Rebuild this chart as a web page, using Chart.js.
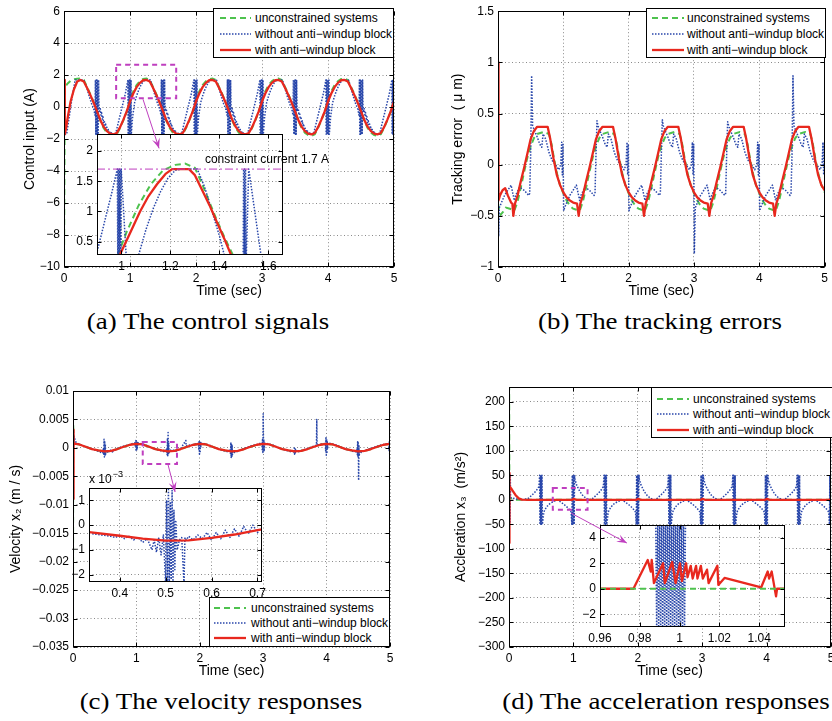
<!DOCTYPE html>
<html><head><meta charset="utf-8">
<script src="https://cdn.jsdelivr.net/npm/chart.js@4.4.1/dist/chart.umd.min.js"></script>
<style>
html,body{margin:0;padding:0;background:#fff;}
#fig{position:relative;width:832px;height:721px;overflow:hidden;background:#fff;}
#fig canvas{position:absolute;}
.legend{position:absolute;background:#fff;border:1px solid #000;box-sizing:border-box;font:12px 'Liberation Sans',Arial,sans-serif;color:#000;}
.legend svg{position:absolute;}
.legend span{position:absolute;white-space:nowrap;line-height:14px;}
.cap{position:absolute;width:440px;text-align:center;font-family:'Liberation Serif',serif;font-size:23px;line-height:26px;color:#000;white-space:nowrap;transform:scaleX(1.17);transform-origin:center;}
</style></head><body><div id="fig"></div>
<script>
// ======================= DATA =======================
const legendLabels=['unconstrained systems','without anti\u2212windup block','with anti\u2212windup block'];
const captions=['(a) The control signals','(b) The tracking errors','(c) The velocity responses','(d) The acceleration responses'];
const xTicksMain=[0,1,2,3,4,5];

// ---------- (a) control input ----------
const yTicksA=[-10,-8,-6,-4,-2,0,2,4,6];
const tA=[0,0.012,0.03,0.06,0.1,0.15,0.2,0.25,0.3,0.35,0.4,0.45,0.5,0.55,0.6,0.65,0.7,0.75,0.8,0.85,0.9,0.95,
1,1.05,1.1,1.15,1.2,1.25,1.3,1.35,1.4,1.45,1.5,1.55,1.6,1.65,1.7,1.75,1.8,1.85,1.9,1.95,
2,2.05,2.1,2.15,2.2,2.25,2.3,2.35,2.4,2.45,2.5,2.55,2.6,2.65,2.7,2.75,2.8,2.85,2.9,2.95,
3,3.05,3.1,3.15,3.2,3.25,3.3,3.35,3.4,3.45,3.5,3.55,3.6,3.65,3.7,3.75,3.8,3.85,3.9,3.95,
4,4.05,4.1,4.15,4.2,4.25,4.3,4.35,4.4,4.45,4.5,4.55,4.6,4.65,4.7,4.75,4.8,4.85,4.9,4.95,5];
const redA=[1.7,-1.7,-1.35,-0.55,0.35,1.1,1.6,1.7,1.6,1.2,0.75,0.27,-0.25,-0.8,-1.22,-1.5,-1.66,-1.7,-1.62,-1.25,-0.78,-0.27,
0.35,0.85,1.25,1.52,1.68,1.7,1.6,1.2,0.75,0.27,-0.25,-0.8,-1.22,-1.5,-1.66,-1.7,-1.62,-1.25,-0.78,-0.27,
0.35,0.85,1.25,1.52,1.68,1.7,1.6,1.2,0.75,0.27,-0.25,-0.8,-1.22,-1.5,-1.66,-1.7,-1.62,-1.25,-0.78,-0.27,
0.35,0.85,1.25,1.52,1.68,1.7,1.6,1.2,0.75,0.27,-0.25,-0.8,-1.22,-1.5,-1.66,-1.7,-1.62,-1.25,-0.78,-0.27,
0.35,0.85,1.25,1.52,1.68,1.7,1.6,1.2,0.75,0.27,-0.25,-0.8,-1.22,-1.5,-1.66,-1.7,-1.62,-1.25,-0.78,-0.27,0.35];
const greenA=[-10.5,1.1,1.35,1.5,1.65,1.74,1.78,1.79,1.7,1.25,0.8,0.3,-0.25,-0.85,-1.3,-1.6,-1.75,-1.79,-1.7,-1.3,-0.82,-0.3,
0.45,0.98,1.38,1.62,1.76,1.79,1.7,1.25,0.8,0.3,-0.25,-0.85,-1.3,-1.6,-1.75,-1.79,-1.7,-1.3,-0.82,-0.3,
0.45,0.98,1.38,1.62,1.76,1.79,1.7,1.25,0.8,0.3,-0.25,-0.85,-1.3,-1.6,-1.75,-1.79,-1.7,-1.3,-0.82,-0.3,
0.45,0.98,1.38,1.62,1.76,1.79,1.7,1.25,0.8,0.3,-0.25,-0.85,-1.3,-1.6,-1.75,-1.79,-1.7,-1.3,-0.82,-0.3,
0.45,0.98,1.38,1.62,1.76,1.79,1.7,1.25,0.8,0.3,-0.25,-0.85,-1.3,-1.6,-1.75,-1.79,-1.7,-1.3,-0.82,-0.3,0.45];
const blueAt=[0,0.015,0.04,0.09,0.13,0.17,0.3,0.34,0.37,0.4,0.42,0.45,0.47,
0.476,0.482,0.488,0.494,0.5,0.506,0.512,0.518,0.524,0.53,0.54,0.55,0.56,0.57,0.58,0.59,0.6,0.61,0.62,0.63,0.64,0.65,0.66,0.67,0.68,0.69,0.7,0.72,0.74,0.78,0.83,0.88,0.93,0.968,0.972,0.978,0.984,0.99,0.996,1.002,1.008,1.014,1.02,1.04,1.07,1.1,1.13,1.16,1.19,1.22,1.25,1.31,1.34,1.37,1.4,1.42,1.45,1.47,
1.476,1.482,1.488,1.494,1.5,1.506,1.512,1.518,1.524,1.53,1.54,1.55,1.56,1.57,1.58,1.59,1.6,1.61,1.62,1.63,1.64,1.65,1.66,1.67,1.68,1.69,1.7,1.72,1.74,1.78,1.83,1.88,1.93,1.968,1.972,1.978,1.984,1.99,1.996,2.002,2.008,2.014,2.02,2.04,2.07,2.1,2.13,2.16,2.19,2.22,2.25,2.31,2.34,2.37,2.4,2.42,2.45,2.47,
2.476,2.482,2.488,2.494,2.5,2.506,2.512,2.518,2.524,2.53,2.54,2.55,2.56,2.57,2.58,2.59,2.6,2.61,2.62,2.63,2.64,2.65,2.66,2.67,2.68,2.69,2.7,2.72,2.74,2.78,2.83,2.88,2.93,2.968,2.972,2.978,2.984,2.99,2.996,3.002,3.008,3.014,3.02,3.04,3.07,3.1,3.13,3.16,3.19,3.22,3.25,3.31,3.34,3.37,3.4,3.42,3.45,3.47,
3.476,3.482,3.488,3.494,3.5,3.506,3.512,3.518,3.524,3.53,3.54,3.55,3.56,3.57,3.58,3.59,3.6,3.61,3.62,3.63,3.64,3.65,3.66,3.67,3.68,3.69,3.7,3.72,3.74,3.78,3.83,3.88,3.93,3.968,3.972,3.978,3.984,3.99,3.996,4.002,4.008,4.014,4.02,4.04,4.07,4.1,4.13,4.16,4.19,4.22,4.25,4.31,4.34,4.37,4.4,4.42,4.45,4.47,
4.476,4.482,4.488,4.494,4.5,4.506,4.512,4.518,4.524,4.53,4.54,4.55,4.56,4.57,4.58,4.59,4.6,4.61,4.62,4.63,4.64,4.65,4.66,4.67,4.68,4.69,4.7,4.72,4.74,4.78,4.83,4.88,4.93,4.968,4.972,4.978,4.984,4.99,4.996,5.002,5.008,5.014,5.02];
const blueAy=[1.7,-1.7,-1.7,-0.3,0.8,1.7,1.7,1.3,0.85,0.45,0.2,-0.1,-0.5,
1.7,-1.7,1.7,-1.7,1.7,-1.7,1.7,-1.7,1.7,0.1,-0.25,-0.1,-0.5,-0.35,-0.75,-0.6,-0.98,-0.85,-1.15,-1.05,-1.35,-1.25,-1.5,-1.4,-1.6,-1.5,-1.68,-1.6,-1.7,-1.7,-0.85,0,0.85,1.7,-1.7,1.7,-1.7,1.7,-1.7,1.7,-1.7,1.7,-1.7,-0.6,0.28,0.7,1.05,1.33,1.55,1.68,1.7,1.7,1.3,0.85,0.45,0.2,-0.1,-0.5,
1.7,-1.7,1.7,-1.7,1.7,-1.7,1.7,-1.7,1.7,0.1,-0.25,-0.1,-0.5,-0.35,-0.75,-0.6,-0.98,-0.85,-1.15,-1.05,-1.35,-1.25,-1.5,-1.4,-1.6,-1.5,-1.68,-1.6,-1.7,-1.7,-0.85,0,0.85,1.7,-1.7,1.7,-1.7,1.7,-1.7,1.7,-1.7,1.7,-1.7,-0.6,0.28,0.7,1.05,1.33,1.55,1.68,1.7,1.7,1.3,0.85,0.45,0.2,-0.1,-0.5,
1.7,-1.7,1.7,-1.7,1.7,-1.7,1.7,-1.7,1.7,0.1,-0.25,-0.1,-0.5,-0.35,-0.75,-0.6,-0.98,-0.85,-1.15,-1.05,-1.35,-1.25,-1.5,-1.4,-1.6,-1.5,-1.68,-1.6,-1.7,-1.7,-0.85,0,0.85,1.7,-1.7,1.7,-1.7,1.7,-1.7,1.7,-1.7,1.7,-1.7,-0.6,0.28,0.7,1.05,1.33,1.55,1.68,1.7,1.7,1.3,0.85,0.45,0.2,-0.1,-0.5,
1.7,-1.7,1.7,-1.7,1.7,-1.7,1.7,-1.7,1.7,0.1,-0.25,-0.1,-0.5,-0.35,-0.75,-0.6,-0.98,-0.85,-1.15,-1.05,-1.35,-1.25,-1.5,-1.4,-1.6,-1.5,-1.68,-1.6,-1.7,-1.7,-0.85,0,0.85,1.7,-1.7,1.7,-1.7,1.7,-1.7,1.7,-1.7,1.7,-1.7,-0.6,0.28,0.7,1.05,1.33,1.55,1.68,1.7,1.7,1.3,0.85,0.45,0.2,-0.1,-0.5,
1.7,-1.7,1.7,-1.7,1.7,-1.7,1.7,-1.7,1.7,0.1,-0.25,-0.1,-0.5,-0.35,-0.75,-0.6,-0.98,-0.85,-1.15,-1.05,-1.35,-1.25,-1.5,-1.4,-1.6,-1.5,-1.68,-1.6,-1.7,-1.7,-0.85,0,0.85,1.7,-1.7,1.7,-1.7,1.7,-1.7,1.7,-1.7,1.7,-1.7];
// inset (a)
const xTicksAi=[1,1.2,1.4,1.6], yTicksAi=[0.5,1,1.5,2];
const redAit=[0.96,0.993,1.03,1.076,1.11,1.145,1.18,1.207,1.276,1.3,1.33,1.36,1.39,1.42,1.448,1.48];
const redAiy=[-0.1,0.28,0.6,1.0,1.25,1.45,1.62,1.7,1.7,1.6,1.35,1.1,0.82,0.55,0.28,-0.05];
const greenAit=[0.95,0.985,1.02,1.07,1.12,1.17,1.22,1.26,1.3,1.33,1.36,1.39,1.42,1.455,1.49];
const greenAiy=[-0.2,0.28,0.65,1.1,1.45,1.68,1.77,1.79,1.72,1.45,1.15,0.85,0.58,0.28,-0.05];
const blueAit=[0.88,0.9,0.92,0.94,0.96,0.983,0.985,0.987,0.989,0.991,0.993,0.995,0.997,0.999,1.03,1.07,1.1,1.13,1.16,1.19,1.22,1.25,1.31,1.34,1.37,1.4,1.42,1.46,1.497,1.499,1.501,1.503,1.505,1.507,1.509,1.52,1.57,1.6];
const blueAiy=[0.0,0.33,0.65,0.98,1.3,1.7,0.1,1.7,0.1,1.7,0.1,1.7,0.1,1.7,-0.5,0.28,0.7,1.05,1.33,1.55,1.68,1.7,1.7,1.4,1.0,0.6,0.28,-0.2,0.1,1.7,0.1,1.7,0.1,1.7,0.1,1.7,0.28,-0.2];
const constraintT=[0.9,1.66], constraintY=[1.7,1.7];

// ---------- (b) tracking error ----------
const yTicksB=[-1,-0.5,0,0.5,1,1.5];
const redBt=[0,0.008,0.03,0.07,0.11,0.15,0.2,0.22,0.235,0.26,
0.3,0.35,0.4,0.45,0.5,0.55,0.6,0.76,0.8,0.85,0.9,0.95,1,1.05,1.1,1.15,1.21,1.235,1.26,
1.3,1.35,1.4,1.45,1.5,1.55,1.6,1.76,1.8,1.85,1.9,1.95,2,2.05,2.1,2.15,2.21,2.235,2.26,
2.3,2.35,2.4,2.45,2.5,2.55,2.6,2.76,2.8,2.85,2.9,2.95,3,3.05,3.1,3.15,3.21,3.235,3.26,
3.3,3.35,3.4,3.45,3.5,3.55,3.6,3.76,3.8,3.85,3.9,3.95,4,4.05,4.1,4.15,4.21,4.235,4.26,
4.3,4.35,4.4,4.45,4.5,4.55,4.6,4.76,4.8,4.85,4.9,4.95,5];
const redBy=[1.0,-0.35,-0.3,-0.25,-0.23,-0.3,-0.37,-0.38,-0.5,-0.38,
-0.3,-0.16,-0.03,0.11,0.25,0.33,0.37,0.37,0.25,0.06,-0.1,-0.2,-0.27,-0.32,-0.35,-0.37,-0.38,-0.5,-0.38,
-0.3,-0.16,-0.03,0.11,0.25,0.33,0.37,0.37,0.25,0.06,-0.1,-0.2,-0.27,-0.32,-0.35,-0.37,-0.38,-0.5,-0.38,
-0.3,-0.16,-0.03,0.11,0.25,0.33,0.37,0.37,0.25,0.06,-0.1,-0.2,-0.27,-0.32,-0.35,-0.37,-0.38,-0.5,-0.38,
-0.3,-0.16,-0.03,0.11,0.25,0.33,0.37,0.37,0.25,0.06,-0.1,-0.2,-0.27,-0.32,-0.35,-0.37,-0.38,-0.5,-0.38,
-0.3,-0.16,-0.03,0.11,0.25,0.33,0.37,0.37,0.25,0.06,-0.1,-0.2,-0.25];
const greenBt=[0,0.02,0.04,0.08,0.12,0.18,0.25,
0.3,0.35,0.4,0.45,0.5,0.55,0.6,0.7,0.78,0.82,0.86,0.9,0.95,1,1.05,1.1,1.15,1.2,1.25,
1.3,1.35,1.4,1.45,1.5,1.55,1.6,1.7,1.78,1.82,1.86,1.9,1.95,2,2.05,2.1,2.15,2.2,2.25,
2.3,2.35,2.4,2.45,2.5,2.55,2.6,2.7,2.78,2.82,2.86,2.9,2.95,3,3.05,3.1,3.15,3.2,3.25,
3.3,3.35,3.4,3.45,3.5,3.55,3.6,3.7,3.78,3.82,3.86,3.9,3.95,4,4.05,4.1,4.15,4.2,4.25,
4.3,4.35,4.4,4.45,4.5,4.55,4.6,4.7,4.78,4.82,4.86,4.9,4.95,5];
const greenBy=[-0.38,-0.45,-0.49,-0.46,-0.42,-0.43,-0.45,
-0.36,-0.22,-0.07,0.07,0.18,0.26,0.3,0.32,0.3,0.2,0.05,-0.08,-0.2,-0.28,-0.35,-0.4,-0.43,-0.44,-0.45,
-0.36,-0.22,-0.07,0.07,0.18,0.26,0.3,0.32,0.3,0.2,0.05,-0.08,-0.2,-0.28,-0.35,-0.4,-0.43,-0.44,-0.45,
-0.36,-0.22,-0.07,0.07,0.18,0.26,0.3,0.32,0.3,0.2,0.05,-0.08,-0.2,-0.28,-0.35,-0.4,-0.43,-0.44,-0.45,
-0.36,-0.22,-0.07,0.07,0.18,0.26,0.3,0.32,0.3,0.2,0.05,-0.08,-0.2,-0.28,-0.35,-0.4,-0.43,-0.44,-0.45,
-0.36,-0.22,-0.07,0.07,0.18,0.26,0.3,0.32,0.3,0.2,0.05,-0.08,-0.2,-0.27];
const blueBt=[0,0.003,0.006,0.01,0.02,0.1,0.2,0.25,
0.27,0.33,0.4,0.47,0.485,0.5,0.515,0.53,0.56,0.6,0.64,0.67,0.69,0.73,0.78,0.83,0.88,0.93,0.96,0.975,0.985,0.995,1.005,1.02,1.1,1.2,1.25,
1.27,1.33,1.4,1.47,1.485,1.5,1.515,1.53,1.56,1.6,1.64,1.67,1.69,1.73,1.78,1.83,1.88,1.93,1.96,1.975,1.985,1.995,2.005,2.02,2.1,2.2,2.25,
2.27,2.33,2.4,2.47,2.485,2.5,2.515,2.53,2.56,2.6,2.64,2.67,2.69,2.73,2.78,2.83,2.88,2.93,2.96,2.975,2.985,2.995,3.005,3.02,3.1,3.2,3.25,
3.27,3.33,3.4,3.47,3.485,3.5,3.515,3.53,3.56,3.6,3.64,3.67,3.69,3.73,3.78,3.83,3.88,3.93,3.96,3.975,3.985,3.995,4.005,4.02,4.1,4.2,4.25,
4.27,4.33,4.4,4.47,4.485,4.5,4.515,4.53,4.56,4.6,4.64,4.67,4.69,4.73,4.78,4.83,4.88,4.93,4.96,4.975,4.985,4.995];
const blueBy=[-0.4,-0.85,-0.45,-0.7,-0.42,-0.3,-0.2,-0.35,
-0.3,-0.22,-0.25,-0.3,-0.28,0.1,0.87,0.38,0.33,0.27,0.2,0.17,0.3,0.25,0.12,0.04,0,-0.05,0,0.22,-0.1,0.2,-0.45,-0.42,-0.3,-0.2,-0.35,
-0.3,-0.22,-0.25,-0.3,-0.28,0.1,0.43,0.38,0.33,0.27,0.2,0.17,0.3,0.25,0.12,0.04,0,-0.05,0,0.22,-0.1,0.2,-0.45,-0.42,-0.3,-0.2,-0.35,
-0.3,-0.22,-0.25,-0.3,-0.28,0.1,0.44,0.38,0.33,0.27,0.2,0.17,0.3,0.25,0.12,0.04,0,-0.05,0,0.22,-0.1,0.2,-0.87,-0.42,-0.3,-0.2,-0.35,
-0.3,-0.22,-0.25,-0.3,-0.28,0.1,0.42,0.38,0.33,0.27,0.2,0.17,0.3,0.25,0.12,0.04,0,-0.05,0,0.22,-0.1,0.2,-0.45,-0.42,-0.3,-0.2,-0.35,
-0.3,-0.22,-0.25,-0.3,-0.28,0.1,0.87,0.38,0.33,0.27,0.2,0.17,0.3,0.25,0.12,0.04,0,-0.05,0,0.22,-0.1,0.2];

// ---------- (c) velocity ----------
const yTicksC=[-0.035,-0.03,-0.025,-0.02,-0.015,-0.01,-0.005,0,0.005,0.01];
const tC=[0,0.003,0.008,0.015,0.05,
0.1,0.2,0.3,0.4,0.5,0.6,0.7,0.8,0.9,1,1.1,1.2,1.3,1.4,1.5,1.6,1.7,1.8,1.9,2,
2.1,2.2,2.3,2.4,2.5,2.6,2.7,2.8,2.9,3,3.1,3.2,3.3,3.4,3.5,3.6,3.7,3.8,3.9,4,
4.1,4.2,4.3,4.4,4.5,4.6,4.7,4.8,4.9,5];
const redC=[0,-0.009,0.0032,0.0008,0.0007,
0.0006,0.0002,-0.00022,-0.00045,-0.00063,-0.00052,-0.0002,0.0002,0.00055,0.0007,
0.0006,0.0002,-0.00022,-0.00045,-0.00063,-0.00052,-0.0002,0.0002,0.00055,0.0007,
0.0006,0.0002,-0.00022,-0.00045,-0.00063,-0.00052,-0.0002,0.0002,0.00055,0.0007,
0.0006,0.0002,-0.00022,-0.00045,-0.00063,-0.00052,-0.0002,0.0002,0.00055,0.0007,
0.0006,0.0002,-0.00022,-0.00045,-0.00063,-0.00052,-0.0002,0.0002,0.00055,0.0007];
const greenC=[-0.0325,0.0042,0.002,0.0008,0.0007,
0.0006,0.0002,-0.00022,-0.00045,-0.00063,-0.00052,-0.0002,0.0002,0.00055,0.0007,
0.0006,0.0002,-0.00022,-0.00045,-0.00063,-0.00052,-0.0002,0.0002,0.00055,0.0007,
0.0006,0.0002,-0.00022,-0.00045,-0.00063,-0.00052,-0.0002,0.0002,0.00055,0.0007,
0.0006,0.0002,-0.00022,-0.00045,-0.00063,-0.00052,-0.0002,0.0002,0.00055,0.0007,
0.0006,0.0002,-0.00022,-0.00045,-0.00063,-0.00052,-0.0002,0.0002,0.00055,0.0007];
const blueCt=[0,0.002,0.004,0.006,0.008,0.012,0.016,0.05,0.15,0.25,0.35,0.42,0.47,
0.48,0.485,0.49,0.495,0.5,0.505,0.51,0.515,0.52,0.55,0.58,0.62,0.7,0.8,0.9,
0.98,0.985,0.99,0.995,1,1.005,1.01,1.015,1.02,1.05,1.15,1.25,1.35,1.45,
1.48,1.485,1.49,1.495,1.5,1.505,1.51,1.515,1.52,1.56,1.62,1.7,1.78,1.785,1.8,1.9,
1.98,1.985,1.99,1.995,2,2.005,2.01,2.015,2.02,2.05,2.15,2.25,2.35,2.45,
2.48,2.485,2.49,2.495,2.5,2.505,2.51,2.515,2.52,2.55,2.6,2.7,2.8,2.9,
2.98,2.985,2.99,2.995,3,3.005,3.01,3.015,3.02,3.05,3.15,3.25,3.35,3.45,
3.48,3.485,3.49,3.495,3.5,3.505,3.51,3.515,3.52,3.55,3.6,3.7,3.8,3.84,3.845,3.85,3.9,
3.98,3.985,3.99,3.995,4,4.005,4.01,4.015,4.02,4.05,4.15,4.25,4.35,4.45,
4.48,4.485,4.49,4.495,4.5,4.505,4.51,4.515,4.52,4.55,4.6,4.7,4.8,4.9,
4.98,4.985,4.99,4.995,5];
const blueCy=[0.0045,0.0002,0.0035,0,0.003,0.0005,0.002,0.0009,0.0004,0,-0.0004,-0.0007,-0.0009,
-0.0001,-0.0011,0.0015,-0.0016,0.0012,-0.0013,0.0006,-0.0011,-0.0004,-0.0009,-0.0003,-0.0007,-0.0001,0.0003,0.0006,
0.0009,0.0001,0.0013,-0.0004,0.0012,-0.0005,0.001,0,0.0009,0.0008,0.0005,0,-0.0004,-0.0007,
-0.0001,-0.0012,0.0017,-0.0014,0.0027,-0.0012,0.0008,-0.001,-0.0005,-0.0003,-0.0006,-0.0001,0.0013,0.0003,0.0004,0.0006,
0.0008,-0.0004,0.0013,-0.0011,0.0012,-0.0009,0.0011,0,0.0008,0.0008,0.0005,0,-0.0004,-0.0007,
-0.0002,-0.0012,0.001,-0.0017,0.0008,-0.0015,0.0005,-0.0012,-0.0005,-0.0008,-0.0006,-0.0001,0.0003,0.0006,
0.0009,-0.0003,0.0016,-0.0008,0.006,0,0.0015,-0.0006,0.0008,0.0008,0.0005,0,-0.0004,-0.0007,
-0.0004,-0.0009,0,-0.0011,-0.0001,-0.001,-0.0002,-0.0008,-0.0005,-0.0007,-0.0005,-0.0001,0.0003,0.0005,0.005,0.0004,0.0006,
0.0008,-0.0005,0.0018,-0.0013,0.0016,-0.001,0.0012,-0.0002,0.0008,0.0008,0.0005,0,-0.0004,-0.0007,
-0.0002,-0.0012,0.0011,-0.0016,0.0009,-0.0057,0.0004,-0.0014,-0.0005,-0.0008,-0.0005,-0.0001,0.0003,0.0006,
0.0008,-0.0004,0.0011,-0.0011,0.001];
// inset (c), values in units of 1e-3
const xTicksCi=[0.4,0.5,0.6,0.7], yTicksCi=[-2,-1,0,1];
const redCit=[0.333,0.4,0.45,0.5,0.55,0.6,0.65,0.7,0.71];
const redCiy=[-0.28,-0.43,-0.55,-0.63,-0.62,-0.52,-0.38,-0.2,-0.17];
const blueCit=[0.34,0.36,0.38,0.39,0.4,0.41,0.42,0.43,0.44,0.45,0.46,0.47,0.475,0.48,0.485,0.49,0.495,0.5,0.502,0.504,0.506,0.508,0.51,0.512,0.514,0.516,0.518,0.52,0.522,0.525,0.53,0.535,0.54,0.542,0.545,0.55,0.56,0.57,0.58,0.59,0.6,0.61,0.62,0.63,0.64,0.65,0.66,0.67,0.68,0.69,0.7,0.71];
const blueCiy=[-0.35,-0.4,-0.45,-0.5,-0.42,-0.55,-0.45,-0.6,-0.5,-0.7,-0.55,-1.0,-0.6,-1.1,-0.5,-1.2,-0.4,-2.4,1.0,-2.4,1.5,-2.4,0.9,-2.2,1.4,-2.4,0.6,-1.8,0.2,-1.0,-0.6,-0.5,-2.4,-0.5,-0.6,-0.45,-0.6,-0.4,-0.55,-0.3,-0.6,-0.3,-0.55,-0.2,-0.5,-0.15,-0.45,-0.05,-0.35,0.0,-0.3,-0.1];

// ---------- (d) acceleration ----------
const yTicksD=[-300,-250,-200,-150,-100,-50,0,50,100,150,200];
const redDt=[0,0.004,0.01,0.05,0.1,0.15,0.2,0.3,0.98,1,1.05,1.98,2,2.05,2.98,3,3.05,3.98,4,4.05,4.98,5];
const redDy=[-88,55,28,20,10,3,0.5,0,0,2,0,0,2,0,0,2,0,0,2,0,0,2];
const greenDt=[0,0.002,0.006,0.03,0.08,5];
const greenDy=[-102,240,6,3,0,0];
const blueDt=[0,0.004,0.008,0.012,0.016,0.02,0.024,0.1,0.2,0.3,0.36,0.42,0.465,
0.476,0.482,0.488,0.494,0.5,0.506,0.512,0.518,0.524,0.54,0.58,0.64,0.7,0.75,0.8,0.86,0.92,0.965,0.976,0.982,0.988,0.994,1,1.006,1.012,1.018,1.024,1.05,1.1,1.15,1.2,1.25,1.3,1.36,1.42,1.465,
1.476,1.482,1.488,1.494,1.5,1.506,1.512,1.518,1.524,1.54,1.58,1.64,1.7,1.75,1.8,1.86,1.92,1.965,1.976,1.982,1.988,1.994,2,2.006,2.012,2.018,2.024,2.05,2.1,2.15,2.2,2.25,2.3,2.36,2.42,2.465,
2.476,2.482,2.488,2.494,2.5,2.506,2.512,2.518,2.524,2.54,2.58,2.64,2.7,2.75,2.8,2.86,2.92,2.965,2.976,2.982,2.988,2.994,3,3.006,3.012,3.018,3.024,3.05,3.1,3.15,3.2,3.25,3.3,3.36,3.42,3.465,
3.476,3.482,3.488,3.494,3.5,3.506,3.512,3.518,3.524,3.54,3.58,3.64,3.7,3.75,3.8,3.86,3.92,3.965,3.976,3.982,3.988,3.994,4,4.006,4.012,4.018,4.024,4.05,4.1,4.15,4.2,4.25,4.3,4.36,4.42,4.465,
4.476,4.482,4.488,4.494,4.5,4.506,4.512,4.518,4.524,4.54,4.58,4.64,4.7,4.75,4.8,4.86,4.92,4.965,4.976,4.982,4.988,4.994,5,5.006,5.012,5.018,5.024];
const blueDy=[-50,55,-48,52,-45,50,5,2,0,3,10,18,27,
50,-50,50,-50,50,-50,50,-50,-45,-25,-15,-7,-3,0,-4,-10,-17,-25,-50,50,-50,50,-50,50,-50,50,42,30,17,8,3,0,3,10,18,27,
50,-50,50,-50,50,-50,50,-50,-45,-25,-15,-7,-3,0,-4,-10,-17,-25,-50,50,-50,50,-50,50,-50,50,42,30,17,8,3,0,3,10,18,27,
50,-50,50,-50,50,-50,50,-50,-45,-25,-15,-7,-3,0,-4,-10,-17,-25,-50,50,-50,50,-50,50,-50,50,42,30,17,8,3,0,3,10,18,27,
50,-50,50,-50,50,-50,50,-50,-45,-25,-15,-7,-3,0,-4,-10,-17,-25,-50,50,-50,50,-50,50,-50,50,42,30,17,8,3,0,3,10,18,27,
50,-50,50,-50,50,-50,50,-50,-45,-25,-15,-7,-3,0,-4,-10,-17,-25,-50,50,-50,50,-50,50,-50,50,42];
// inset (d)
const xTicksDi=[0.96,0.98,1,1.02,1.04], yTicksDi=[-2,0,2,4];
const redDit=[0.96,0.9768,0.984,0.9855,0.986,0.9871,0.9917,0.9926,0.9963,0.998,1.0002,1.0012,1.0033,1.004,1.0056,1.0066,1.0083,1.009,1.0107,1.0117,1.0138,1.0146,1.019,1.0195,1.0226,1.041,1.0443,1.045,1.0463,1.0485,1.049,1.053];
const redDiy=[0,0,2.26,1.35,2.26,0.44,2.0,0.44,2.1,0.44,2.0,0.6,2.0,0.9,1.8,0.8,1.8,0.8,1.8,0.8,1.5,0.44,1.8,0.3,0.85,0.1,1.35,0.8,1.35,-0.6,0,0];
const greenDit=[0.96,1.053], greenDiy=[0,0];
const blueDit=[0.988,0.9885,0.989,0.9895,0.99,0.9905,0.991,0.9915,0.992,0.9925,0.993,0.9935,0.994,0.9945,0.995,0.9955,0.996,0.9965,0.997,0.9975,0.998,0.9985,0.999,0.9995,1,1.0005,1.001,1.0015,1.002,1.0025,1.003];
const blueDiy=[5.5,-3.5,5.5,-3.5,5.5,-3.5,5.5,-3.5,5.5,-3.5,5.5,-3.5,5.5,-3.5,5.5,-3.5,5.5,-3.5,5.5,-3.5,5.5,-3.5,5.5,-3.5,5.5,-3.5,5.5,-3.5,5.5,-3.5,5.5];

// ======================= DRAWING =======================
const RED='#e8281e', GREEN='#4ec24e', BLUE='#2846aa', MAG='#bf3fbf';
Chart.defaults.font.family="'Liberation Sans', Arial, sans-serif";
Chart.defaults.font.size=12;
Chart.defaults.color='#000';
const fig=document.getElementById('fig');
const fmt=v=>String(parseFloat(Number(v).toFixed(6))).replace('-','\u2212');
const pts=(xs,ys)=>xs.map((x,i)=>({x:x,y:ys[i]}));
const ST={
  red:{borderColor:RED,borderWidth:2.3,borderJoinStyle:'round'},
  green:{borderColor:GREEN,borderWidth:2,borderDash:[6,4]},
  blue:{borderColor:BLUE,borderWidth:1.5,borderDash:[1.5,1.5],borderJoinStyle:'round'},
  mag:{borderColor:MAG,borderWidth:1,borderDash:[8,3,2,3]}
};
function ds(xs,ys,st){return Object.assign({data:pts(xs,ys),pointRadius:0,fill:false,tension:0,clip:0},ST[st]);}

function frame(white,extra){
  return {id:'frame',
    beforeDraw(c){ if(!white) return; const a=c.chartArea,ctx=c.ctx; ctx.save(); ctx.fillStyle='#fff'; ctx.fillRect(a.left,a.top,a.right-a.left,a.bottom-a.top); ctx.restore(); },
    afterDraw(c){
      const ctx=c.ctx,a=c.chartArea,X=c.scales.x,Y=c.scales.y;
      ctx.save(); ctx.strokeStyle='#000'; ctx.lineWidth=1; ctx.setLineDash([]);
      const L=Math.round(a.left)+0.5,R=Math.round(a.right)-0.5,T=Math.round(a.top)+0.5,B=Math.round(a.bottom)-0.5;
      ctx.strokeRect(L,T,R-L,B-T);
      ctx.beginPath();
      X.ticks.forEach(t=>{const p=Math.round(X.getPixelForValue(t.value))+0.5; ctx.moveTo(p,B);ctx.lineTo(p,B-4);ctx.moveTo(p,T);ctx.lineTo(p,T+4);});
      Y.ticks.forEach(t=>{const p=Math.round(Y.getPixelForValue(t.value))+0.5; ctx.moveTo(L,p);ctx.lineTo(L+4,p);ctx.moveTo(R,p);ctx.lineTo(R-4,p);});
      ctx.stroke();
      if(extra) extra(c,ctx);
      ctx.restore();
    }};
}

function makeChart(o){
  const cv=document.createElement('canvas');
  cv.width=o.cw; cv.height=o.ch;
  cv.style.left=o.cx+'px'; cv.style.top=o.cy+'px';
  cv.style.width=o.cw+'px'; cv.style.height=o.ch+'px';
  fig.appendChild(cv);
  const TS=14, TH=TS*1.2/2+4;
  const padL=o.yTitle?(o.yTitleX-o.cx-TH):0;
  const yW=o.l-o.cx-padL;
  const padT=o.t-o.cy, padR=o.cx+o.cw-o.r;
  const padB=o.xTitle?(o.cy+o.ch-o.xTitleY-TH):0;
  const xH=o.cy+o.ch-padB-o.b;
  const grid={color:'#8a8a8a',lineWidth:1,drawTicks:false};
  const border={display:false,dash:[1,2.5]};
  const ch=new Chart(cv,{type:'line',data:{datasets:o.datasets},
    options:{responsive:false,animation:false,devicePixelRatio:1,
      layout:{padding:{left:padL,right:padR,top:padT,bottom:padB}},
      plugins:{legend:{display:false},tooltip:{enabled:false}},
      elements:{point:{radius:0},line:{tension:0}},
      scales:{
        x:{type:'linear',min:o.xMin,max:o.xMax,grid:grid,border:border,
          ticks:{callback:fmt,padding:4,maxRotation:0,autoSkip:false},
          title:{display:!!o.xTitle,text:o.xTitle||'',font:{size:TS},padding:{top:0,bottom:4}},
          afterBuildTicks:s=>{s.ticks=o.xTicks.map(v=>({value:v}));},
          afterFit:s=>{s.height=xH;}},
        y:{type:'linear',min:o.yMin,max:o.yMax,grid:grid,border:border,
          ticks:{callback:fmt,padding:4,autoSkip:false},
          title:{display:!!o.yTitle,text:o.yTitle||'',font:{size:TS},padding:{top:4,bottom:0}},
          afterBuildTicks:s=>{s.ticks=o.yTicks.map(v=>({value:v}));},
          afterFit:s=>{s.width=yW;}}
      }},
    plugins:[frame(o.white,o.draw)]});
  ch.$pos={cx:o.cx,cy:o.cy};
  return ch;
}

function zoomRect(r){ // r=[t0,t1,y0,y1] in data coords
  return (c,ctx)=>{const X=c.scales.x,Y=c.scales.y;
    const x0=X.getPixelForValue(r[0]),x1=X.getPixelForValue(r[1]),y0=Y.getPixelForValue(r[2]),y1=Y.getPixelForValue(r[3]);
    ctx.strokeStyle=MAG; ctx.lineWidth=2; ctx.setLineDash([5,4]);
    ctx.strokeRect(x0,y1,x1-x0,y0-y1); ctx.setLineDash([]);};
}
function arrow(ctx,main,ins,a){
  const X=main.scales.x,Y=main.scales.y,dx=main.$pos.cx-ins.cx,dy=main.$pos.cy-ins.cy;
  const x0=X.getPixelForValue(a[0])+dx,y0=Y.getPixelForValue(a[1])+dy,x1=X.getPixelForValue(a[2])+dx,y1=Y.getPixelForValue(a[3])+dy;
  ctx.strokeStyle=MAG; ctx.fillStyle=MAG; ctx.lineWidth=1; ctx.setLineDash([]);
  ctx.beginPath(); ctx.moveTo(x0,y0); ctx.lineTo(x1,y1); ctx.stroke();
  const g=Math.atan2(y1-y0,x1-x0),L=10,W=4;
  ctx.beginPath(); ctx.moveTo(x1,y1);
  ctx.lineTo(x1-L*Math.cos(g)+W*Math.sin(g),y1-L*Math.sin(g)-W*Math.cos(g));
  ctx.lineTo(x1-0.6*L*Math.cos(g),y1-0.6*L*Math.sin(g));
  ctx.lineTo(x1-L*Math.cos(g)-W*Math.sin(g),y1-L*Math.sin(g)+W*Math.cos(g));
  ctx.closePath(); ctx.fill();
}

// ---- main charts ----
const chA=makeChart({cx:0,cy:0,cw:416,ch:305,l:64,t:7,r:394,b:267,yTitleX:30,xTitleY:291,
  xMin:0,xMax:5,yMin:-10,yMax:6,xTicks:xTicksMain,yTicks:yTicksA,xTitle:'Time (sec)',yTitle:'Control input (A)',
  datasets:[ds(tA,redA,'red'),ds(blueAt,blueAy,'blue'),ds(tA,greenA,'green')],
  draw:zoomRect([0.79,1.7,0.55,2.65])});
const chB=makeChart({cx:416,cy:0,cw:416,ch:305,l:498,t:7,r:826,b:267,yTitleX:458,xTitleY:291,
  xMin:0,xMax:5,yMin:-1,yMax:1.5,xTicks:xTicksMain,yTicks:yTicksB,xTitle:'Time (sec)',yTitle:'Tracking error  ( \u03bc m)',
  datasets:[ds(redBt,redBy,'red'),ds(blueBt,blueBy,'blue'),ds(greenBt,greenBy,'green')]});
const chC=makeChart({cx:0,cy:375,cw:416,ch:310,l:73,t:391,r:390,b:647,yTitleX:16,xTitleY:671,
  xMin:0,xMax:5,yMin:-0.035,yMax:0.01,xTicks:xTicksMain,yTicks:yTicksC,xTitle:'Time (sec)',yTitle:'Velocity x\u2082 (m / s)',
  datasets:[ds(tC,redC,'red'),ds(blueCt,blueCy,'blue'),ds(tC,greenC,'green')],
  draw:zoomRect([1.1,1.64,-0.00283,0.00104])});
const chD=makeChart({cx:416,cy:375,cw:426,ch:310,l:509,t:387,r:831,b:647,yTitleX:461,xTitleY:671,
  xMin:0,xMax:5,yMin:-300,yMax:230,xTicks:xTicksMain,yTicks:yTicksD,xTitle:'Time (sec)',yTitle:'Accleration x\u2083  (m/s\u00b2)',
  datasets:[ds(redDt,redDy,'red'),ds(blueDt,blueDy,'blue'),ds(greenDt,greenDy,'green')],
  draw:zoomRect([0.68,1.22,-20,24])});

// ---- insets ----
const posAi={cx:60,cy:88};
makeChart({cx:60,cy:88,cw:285,ch:190,l:97,t:134,r:283,b:255,white:true,
  xMin:0.9,xMax:1.66,yMin:0.28,yMax:2.28,xTicks:xTicksAi,yTicks:yTicksAi,
  datasets:[ds(constraintT,constraintY,'mag'),ds(redAit,redAiy,'red'),ds(blueAit,blueAiy,'blue'),ds(greenAit,greenAiy,'green')],
  draw:(c,ctx)=>{ctx.fillStyle='#000';ctx.font="12px 'Liberation Sans', Arial, sans-serif";ctx.textBaseline='alphabetic';
    ctx.fillText('constraint current 1.7 A',c.scales.x.getPixelForValue(1.341),c.scales.y.getPixelForValue(1.8));
    arrow(ctx,chA,posAi,[1.197,0.49,1.44,-2.58]);}});
const posCi={cx:50,cy:458};
makeChart({cx:50,cy:458,cw:220,ch:145,l:89,t:488,r:263,b:582,white:true,
  xMin:0.333,xMax:0.71,yMin:-2.3,yMax:1.5,xTicks:xTicksCi,yTicks:yTicksCi,
  datasets:[ds(redCit,redCiy,'red'),ds(blueCit,blueCiy,'blue')],
  draw:(c,ctx)=>{const a=c.chartArea;ctx.fillStyle='#000';ctx.textBaseline='alphabetic';
    ctx.font="12px 'Liberation Sans', Arial, sans-serif";ctx.fillText('x 10',a.left,a.top-5);
    const w=ctx.measureText('x 10').width;ctx.font="9px 'Liberation Sans', Arial, sans-serif";ctx.fillText('\u22123',a.left+w+1,a.top-11);
    arrow(ctx,chC,posCi,[1.5,-0.003,1.61,-0.00775]);}});
const posDi={cx:560,cy:500};
makeChart({cx:560,cy:500,cw:235,ch:145,l:600,t:525,r:785,b:627,white:true,
  xMin:0.96,xMax:1.053,yMin:-3,yMax:5,xTicks:xTicksDi,yTicks:yTicksDi,
  datasets:[ds(greenDit,greenDiy,'green'),ds(redDit,redDiy,'red'),ds(blueDit,blueDiy,'blue')],
  draw:(c,ctx)=>{arrow(ctx,chD,posDi,[0.963,-27,1.83,-88]);}});

// ---- legends ----
function legend(l,t,w,h,rows,sx0,sx1,tx){
  const d=document.createElement('div'); d.className='legend';
  d.style.left=l+'px'; d.style.top=t+'px'; d.style.width=w+'px'; d.style.height=h+'px';
  const sty=[[GREEN,'6,4',2],[BLUE,'1.5,1.5',1.5],[RED,'',2.3]];
  let html='';
  sty.forEach((s,i)=>{
    html+='<svg style="left:'+sx0+'px;top:'+(rows[i]-4)+'px" width="'+(sx1-sx0)+'" height="8"><line x1="0" y1="4" x2="'+(sx1-sx0)+'" y2="4" stroke="'+s[0]+'" stroke-width="'+s[2]+'"'+(s[1]?' stroke-dasharray="'+s[1]+'"':'')+'/></svg>';
    html+='<span style="left:'+tx+'px;top:'+(rows[i]-7)+'px">'+legendLabels[i]+'</span>';
  });
  d.innerHTML=html; fig.appendChild(d);
}
legend(213,8,181,50,[9,25,41],6,37,41);
legend(646,8,180,50,[9,25,41],5,37,40);
legend(209,597,181,50,[10,25,40],4,36,41);
legend(651,387,185,51,[11,26,42],5,37,41);

// ---- captions ----
function caption(txt,cx,cy){const d=document.createElement('div');d.className='cap';d.textContent=txt;d.style.left=(cx-220)+'px';d.style.top=(cy-13)+'px';fig.appendChild(d);}
caption(captions[0],208,322);
caption(captions[1],660,322);
caption(captions[2],221,702);
caption(captions[3],666,702);
</script></body></html>
